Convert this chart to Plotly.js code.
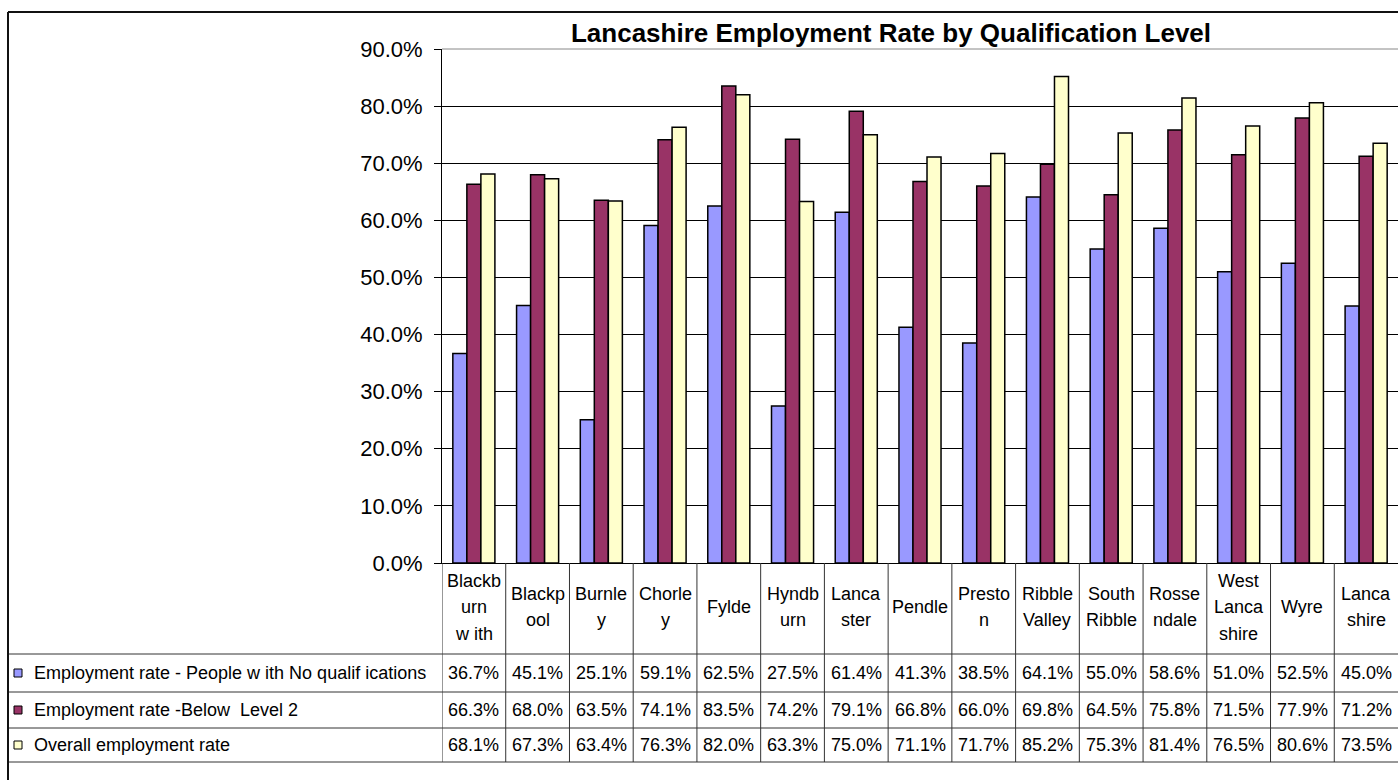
<!DOCTYPE html>
<html><head><meta charset="utf-8">
<script src="https://cdn.plot.ly/plotly-3.0.1.min.js"></script>
<style>html,body{margin:0;padding:0;background:#fff;overflow:hidden}</style>
</head><body><div id="chart" style="width:1398px;height:780px"></div>
<script>
const categories = ["Blackb<br>urn<br>w ith","Blackp<br>ool","Burnle<br>y","Chorle<br>y","Fylde","Hyndb<br>urn","Lanca<br>ster","Pendle","Presto<br>n","Ribble<br>Valley","South<br>Ribble","Rosse<br>ndale","West<br>Lanca<br>shire","Wyre","Lanca<br>shire"];
const seriesNames = ["Employment rate - People w ith No qualif ications","Employment rate -Below  Level 2","Overall employment rate"];
const noQualifications = [36.7,45.1,25.1,59.1,62.5,27.5,61.4,41.3,38.5,64.1,55.0,58.6,51.0,52.5,45.0];
const belowLevel2 = [66.3,68.0,63.5,74.1,83.5,74.2,79.1,66.8,66.0,69.8,64.5,75.8,71.5,77.9,71.2];
const overallRate = [68.1,67.3,63.4,76.3,82.0,63.3,75.0,71.1,71.7,85.2,75.3,81.4,76.5,80.6,73.5];
const seriesColors = ["#9999FF","#993366","#FFFFCC"];
const titleText = "Lancashire Employment Rate by Qualification Level";

const W = 1398, H = 780;
const px = x => x / W;
const py = y => 1 - y / H;
const FONT = "Arial, 'Liberation Sans', sans-serif";

const series = [noQualifications, belowLevel2, overallRate];
const traces = series.map((vals, s) => ({
  type: "bar",
  name: seriesNames[s],
  x: categories,
  y: vals,
  marker: {color: seriesColors[s], line: {color: "#000", width: 1.5}},
  hoverinfo: "none"
}));

const plotTop = 49, plotBottom = 563;
const rowLines = [654, 692, 728, 762];
const rowCenters = [673, 710, 745];
const headerCenter = 607, headerLineGap = 26.5;

const shapes = [];
// outer chart border
shapes.push({type:"line", xref:"paper", yref:"paper", x0:px(8), x1:1, y0:py(12), y1:py(12), line:{color:"#111", width:2}});
shapes.push({type:"line", xref:"paper", yref:"paper", x0:px(8), x1:px(8), y0:py(12), y1:0, line:{color:"#111", width:2}});
// top plot border (grey)
shapes.push({type:"line", xref:"paper", yref:"paper", x0:px(442), x1:1, y0:py(plotTop), y1:py(plotTop), line:{color:"#888", width:1}, layer:"above"});
// table horizontal lines
rowLines.forEach(y => shapes.push({type:"line", xref:"paper", yref:"paper", x0:px(9), x1:1, y0:py(y), y1:py(y), line:{color:"#333", width:1}}));
// table vertical lines at category boundaries
for (let i = 0; i < categories.length; i++) {
  shapes.push({type:"line", xref:"x", yref:"paper", x0:i-0.5, x1:i-0.5, y0:py(plotBottom), y1:py(rowLines[3]), line:{color:"#333", width:1}});
}
// legend keys
rowCenters.forEach((yc, s) => shapes.push({type:"rect", xref:"paper", yref:"paper", x0:px(14), x1:px(22), y0:py(yc+4), y1:py(yc-4), fillcolor:seriesColors[s], line:{color:"#000", width:1}}));

const annotations = [];
// row labels
seriesNames.forEach((n, s) => annotations.push({xref:"paper", yref:"paper", x:px(32), y:py(rowCenters[s]), xanchor:"left", yanchor:"middle", showarrow:false, text:n, font:{family:FONT, size:18, color:"#000"}}));
// header category labels
categories.forEach((c, i) => {
  const lines = c.split("<br>");
  lines.forEach((ln, k) => {
    const yc = headerCenter + (k - (lines.length - 1) / 2) * headerLineGap;
    annotations.push({xref:"x", yref:"paper", x:i, y:py(yc), xanchor:"center", yanchor:"middle", showarrow:false, text:ln, font:{family:FONT, size:18, color:"#000"}});
  });
});
// values
series.forEach((vals, s) => vals.forEach((v, i) => annotations.push({xref:"x", yref:"paper", x:i, y:py(rowCenters[s]), xanchor:"center", yanchor:"middle", showarrow:false, text:v.toFixed(1) + "%", font:{family:FONT, size:18, color:"#000"}})));

const layout = {
  width: W, height: H,
  margin: {l:0, r:0, t:0, b:0},
  paper_bgcolor: "#fff", plot_bgcolor: "#fff",
  showlegend: false,
  barmode: "group", bargap: 0.34, bargroupgap: 0,
  title: {text: "<b>" + titleText + "</b>", x: px(891), xanchor: "center", y: py(33), yanchor: "middle", font: {family: FONT, size: 26, color: "#000"}},
  xaxis: {domain:[px(442), 1], type:"category", range:[-0.5, 14.5], showticklabels:false, ticks:"", showline:true, linecolor:"#000", linewidth:1, showgrid:false, zeroline:false, fixedrange:true},
  yaxis: {domain:[py(plotBottom), py(plotTop)], range:[0, 90], dtick:10, tick0:0, tickformat:".1f", ticksuffix:"%", ticks:"outside", ticklen:7, tickcolor:"#000", tickwidth:1, showline:true, linecolor:"#000", linewidth:1, showgrid:true, gridcolor:"#000", gridwidth:1, zeroline:false, tickfont:{family:FONT, size:22, color:"#000"}, ticklabelstandoff:7, fixedrange:true},
  shapes: shapes,
  annotations: annotations
};
Plotly.newPlot("chart", traces, layout, {staticPlot:true, displayModeBar:false});
</script></body></html>
